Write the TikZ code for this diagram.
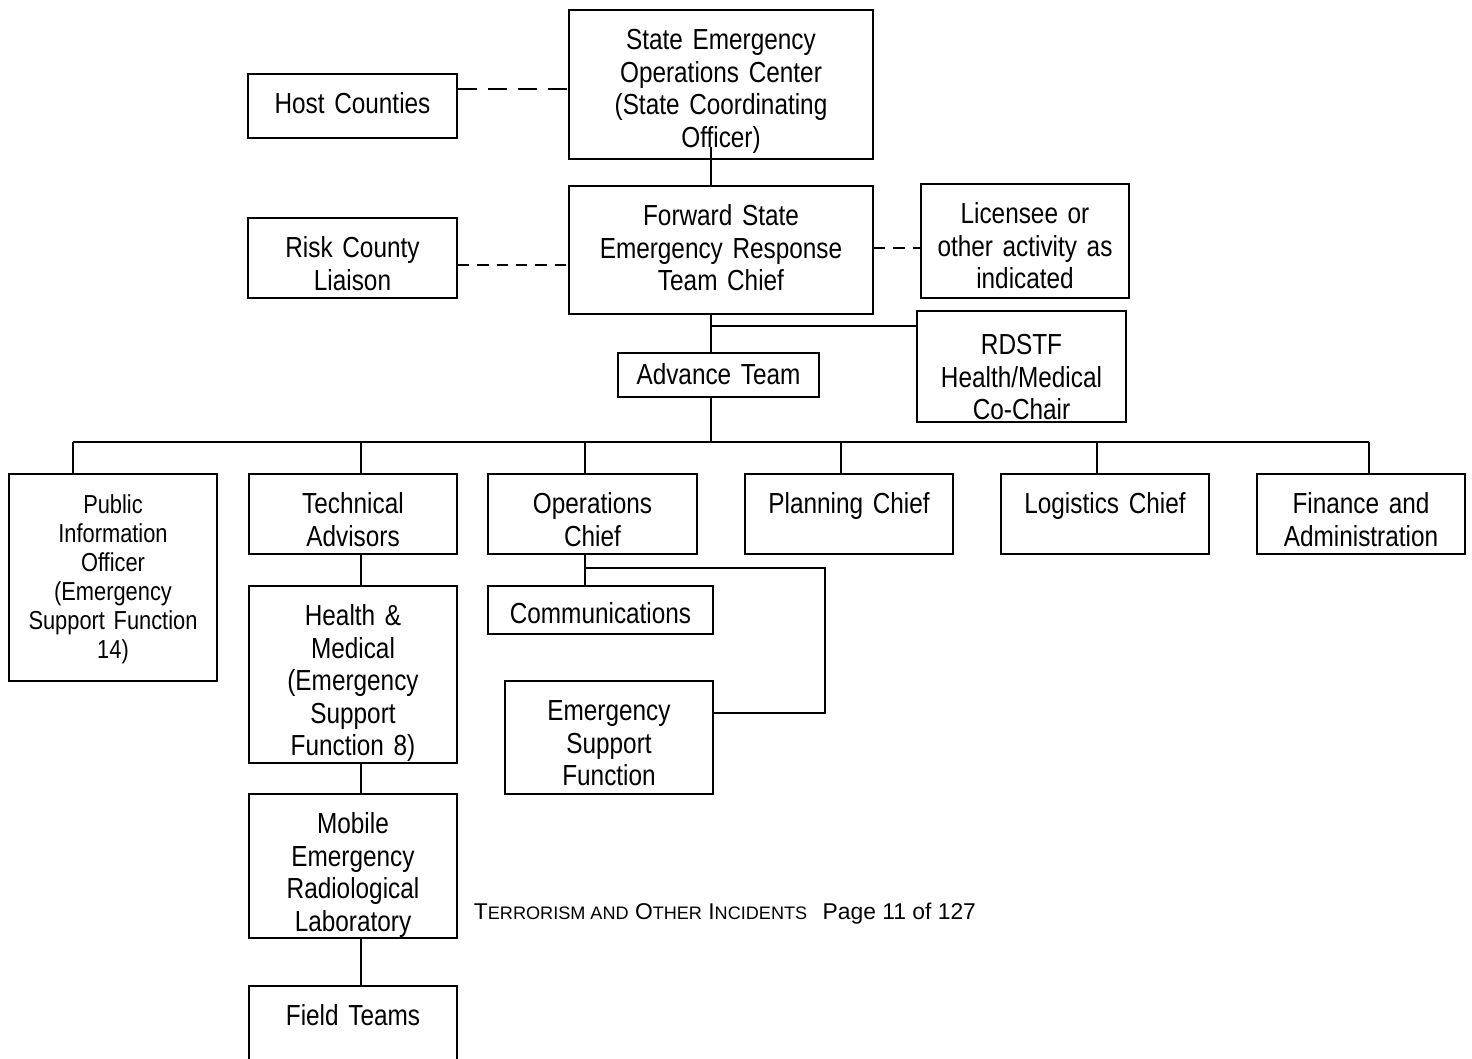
\documentclass[tikz,border=0pt]{standalone}
\usepackage{fontspec}
\setmainfont{Liberation Sans}[FakeStretch=0.84]
\newfontfamily\footfont{Liberation Sans}
\usetikzlibrary{positioning}

\newcommand{\fakesc}[2]{#1{\fontsize{10.3}{12}\selectfont #2}}
\newcommand{\tightspace}[1]{\spaceskip=#1 plus 1pt minus 0.5pt\relax}

\begin{document}
\begin{tikzpicture}[
    x=0.02cm, y=-0.02cm,
    line width=1.1pt,
    every node/.style={font=\fontsize{16.5}{18.5}\selectfont\tightspace{3.9pt}},
    box/.style 2 args={draw, anchor=north, inner sep=0pt, align=center,
        text width=#1*0.02cm, text height=0.8cm, text depth=(#2-40)*0.02cm},
    smalltext/.style={font=\fontsize{14.8}{16.5}\selectfont\tightspace{3.5pt}},
    longdash/.style={line width=1.7pt, dash pattern=on 10.8pt off 6.3pt},
    shortdash/.style={dash pattern=on 6.5pt off 4.5pt}
]
\useasboundingbox (0,0) rectangle (1472,1059);

% top of the chart
\node[box={304}{149}] (seoc) at (721,9) {State Emergency\\Operations Center\\(State Coordinating\\Officer)};
\node[box={209}{64}] (host) at (352.5,73) {Host Counties};
\node[box={304}{128}] (fsert) at (721,185) {Forward State\\Emergency Response\\Team Chief};
\node[box={209}{80}] (risk) at (352.5,217) {Risk County\\Liaison};
\node[box={208}{114}] (licensee) at (1025,183) {Licensee or\\other activity as\\indicated};
\node[box={209}{111}, text height=0.88cm, text depth=1.34cm] (rdstf) at (1021.5,310) {RDSTF\\Health/Medical\\Co-Chair};

% sections
\node[box={208}{207}, smalltext] (pio) at (113,473) {Public\\Information\\Officer\\(Emergency\\Support Function\\14)};
\node[box={208}{80}] (tech) at (353,473) {Technical\\Advisors};
\node[box={209}{80}] (ops) at (592.5,473) {Operations\\Chief};
\node[box={208}{80}] (planning) at (849,473) {Planning Chief};
\node[box={208}{80}] (logistics) at (1105,473) {Logistics Chief};
\node[box={208}{80}] (finance) at (1361,473) {Finance and\\Administration};

\node[box={208}{177}] (health) at (353,585) {Health \&\\Medical\\(Emergency\\Support\\Function 8)};
\node[box={208}{144}] (mobile) at (353,793) {Mobile\\Emergency\\Radiological\\Laboratory};
\node[box={208}{90}] (field) at (353,985) {Field Teams};
\node[box={225}{48}, text height=0.76cm, text depth=0.2cm] (comms) at (600.5,585) {Communications};
\node[box={208}{113}] (esf) at (609,680) {Emergency\\Support\\Function};

\coordinate (spine) at (711,0);
\coordinate (bus) at (711,442);
\coordinate (opsjoin) at (585,568);

% links
\draw[longdash] (host.east |- 0,89) -- (seoc.west |- 0,89);
\draw[shortdash] (risk.east |- 0,265) -- (fsert.west |- 0,265);
\draw[shortdash] (fsert.east |- 0,248) -- (licensee.west |- 0,248);
\draw (spine |- seoc.south) ++(0,-13) -- (spine |- fsert.north);
\draw (spine |- fsert.south) -- (bus);
\draw[line width=1.6pt] (spine |- 0,326) -- (rdstf.west |- 0,326);
\draw (73,0 |- bus) -- (1369,0 |- bus);
\foreach \x/\n in {73/pio, 361/tech, 585/ops, 841/planning, 1097/logistics, 1369/finance}
    \draw (\x,0 |- bus) -- (\x,0 |- \n.north);
\foreach \a/\b in {tech/health, health/mobile, mobile/field}
    \draw (361,0 |- \a.south) -- (361,0 |- \b.north);
\draw (opsjoin |- ops.south) -- (opsjoin |- comms.north);
\draw (opsjoin) -| (825,713) -- (esf.east |- 0,713);

\node[box={201}{44}, text height=0.64cm, text depth=0.24cm, fill=white] (advance) at (718.5,352) {Advance Team};

\node[anchor=base west, inner sep=0pt, font=\footfont\fontsize{13}{15}\selectfont] (footer) at (473,919)
    {\fakesc{T}{ERRORISM AND} \fakesc{O}{THER} \fakesc{I}{NCIDENTS}\hspace{0.4em} Page 11 of 127};
\end{tikzpicture}
\end{document}
